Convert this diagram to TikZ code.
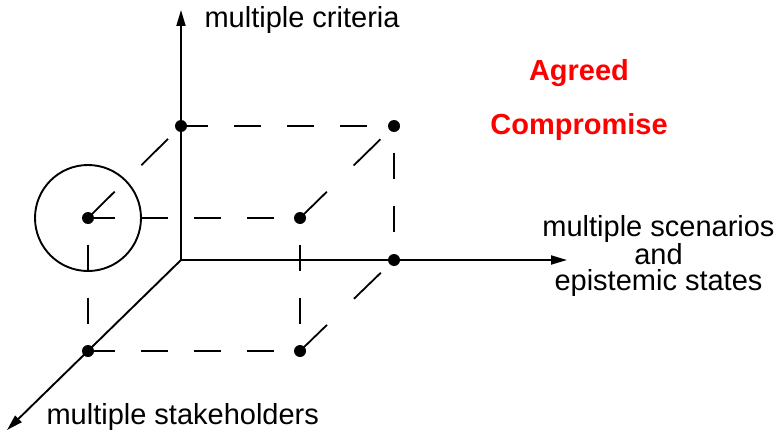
\documentclass[tikz,border=0pt]{standalone}
\usepackage{fontspec}
\setmainfont{Liberation Sans}
\usetikzlibrary{arrows.meta}

\tikzset{
	axis/.style={line width=1.9pt, -{Triangle[length=16pt, width=9pt]}},
	edge/.style={line width=1.8pt, dash pattern=on 26.5pt off 26.5pt},
	vedge/.style={edge, dash phase=26.5pt},
	dedge/.style={line width=1.8pt, dash pattern=on 37.5pt off 37.5pt},
	lbl/.style={font=\fontsize{29}{25.5}\selectfont},
	agreed/.style={lbl, text=red, font=\fontsize{29}{25.5}\selectfont\bfseries}
}

\begin{document}
\begin{tikzpicture}[x=1pt, y=-1pt]
	\useasboundingbox (0,0) rectangle (783,433);
	% origin and the three axes
	\coordinate (O) at (181,260);
	\coordinate (crit) at (181,10);
	\coordinate (scen) at (567,260);
	\coordinate (stake) at (7,430);
	% corners of the box (back face, front face)
	\coordinate (A) at (181,126);
	\coordinate (B) at (394,126);
	\coordinate (C) at (394,260);
	\coordinate (D) at (88,218);
	\coordinate (E) at (300,218);
	\coordinate (F) at (300,351);
	\coordinate (G) at (88,351);

	\draw[axis] (O) -- (crit);
	\draw[axis] (O) -- (scen);
	\draw[axis] (O) -- (stake);

	% dashed edges
	\draw[edge] (A) -- (B);
	\draw[edge] (D) -- (E);
	\draw[edge] (G) -- (F);
	\draw[vedge] (B) -- (C);
	\draw[vedge] (E) -- (F);
	\draw[vedge] (D) -- (G);
	\draw[dedge] (D) -- (A);
	\draw[dedge] (E) -- (B);
	\draw[dedge] (F) -- (C);

	\draw[line width=1.9pt] (D) circle (53);
	\foreach \p in {A,B,C,D,E,F,G}
		\fill (\p) circle (6);

	\node[lbl, anchor=base west] (critlbl) at (201,28) {multiple criteria};
	\node[lbl, anchor=base west] (stakelbl) at (43,424) {multiple stakeholders};
	\node[lbl, align=center, anchor=base] (scenlbl) at (658.5,290) {multiple scenarios\\and\\epistemic states};
	\node[agreed, anchor=base] (agr) at (579,81) {Agreed};
	\node[agreed, anchor=base] (comp) at (579,134) {Compromise};
\end{tikzpicture}
\end{document}
